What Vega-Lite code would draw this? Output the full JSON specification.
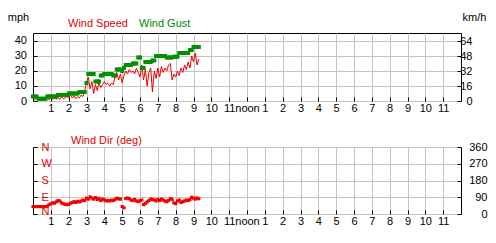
{
  "$schema": "https://vega.github.io/schema/vega-lite/v6.json",
  "background": "white",
  "padding": {"left": 6, "top": 10, "right": 2, "bottom": 2},
  "spacing": 20,
  "config": {
    "font": "Liberation Sans",
    "view": {"stroke": "black", "strokeWidth": 1},
    "axis": {
      "domain": false,
      "labelFont": "Liberation Sans",
      "labelFontSize": 11,
      "labelColor": "black",
      "tickColor": "black",
      "tickSize": -4,
      "gridColor": "#c4c4c4",
      "gridOpacity": 1,
      "titleFont": "Liberation Sans",
      "titleFontSize": 11,
      "titleFontWeight": "normal",
      "titleColor": "black"
    },
    "title": {"font": "Liberation Sans", "fontSize": 11, "fontWeight": "normal"}
  },
  "datasets": {
    "w": [
      {"h": 0.0, "speed": 2, "gust": 3, "dir": 40},
      {"h": 0.1, "speed": 1, "gust": 3, "dir": 40},
      {"h": 0.2, "speed": 2, "gust": 3, "dir": 40},
      {"h": 0.3, "speed": 0.5, "gust": 1.5, "dir": 40},
      {"h": 0.4, "speed": 1, "gust": 1.5, "dir": 40},
      {"h": 0.5, "speed": 0.5, "gust": 1.5, "dir": 40},
      {"h": 0.6, "speed": 1.5, "gust": 1.5, "dir": 40},
      {"h": 0.7, "speed": 0.5, "gust": 1.5, "dir": 40},
      {"h": 0.8, "speed": 1.5, "gust": 3, "dir": 42},
      {"h": 0.9, "speed": 1, "gust": 3, "dir": 50},
      {"h": 1.0, "speed": 2, "gust": 3, "dir": 55},
      {"h": 1.1, "speed": 1, "gust": 3, "dir": 60},
      {"h": 1.2, "speed": 2.5, "gust": 3, "dir": 58},
      {"h": 1.3, "speed": 1, "gust": 3, "dir": 65},
      {"h": 1.4, "speed": 2.5, "gust": 4, "dir": 72},
      {"h": 1.5, "speed": 1, "gust": 4, "dir": 70},
      {"h": 1.6, "speed": 3, "gust": 4, "dir": 60},
      {"h": 1.7, "speed": 1.5, "gust": 4, "dir": 55},
      {"h": 1.8, "speed": 2, "gust": 4, "dir": 52},
      {"h": 1.9, "speed": 3, "gust": 4, "dir": 50},
      {"h": 2.0, "speed": 2, "gust": 5, "dir": 52},
      {"h": 2.1, "speed": 4, "gust": 5, "dir": 58},
      {"h": 2.2, "speed": 2, "gust": 5, "dir": 62},
      {"h": 2.3, "speed": 3.5, "gust": 5, "dir": 66},
      {"h": 2.4, "speed": 1.5, "gust": 5, "dir": 62},
      {"h": 2.5, "speed": 3, "gust": 5, "dir": 68},
      {"h": 2.6, "speed": 2, "gust": 6, "dir": 65},
      {"h": 2.7, "speed": 4, "gust": 6, "dir": 70},
      {"h": 2.8, "speed": 3, "gust": 6, "dir": 75},
      {"h": 2.9, "speed": 7, "gust": 6, "dir": 72},
      {"h": 3.0, "speed": 12, "gust": 12, "dir": 85},
      {"h": 3.1, "speed": 16, "gust": 18, "dir": 80},
      {"h": 3.2, "speed": 8, "gust": 18, "dir": 92},
      {"h": 3.3, "speed": 13, "gust": 18, "dir": 86},
      {"h": 3.4, "speed": 5, "gust": 18, "dir": 80},
      {"h": 3.5, "speed": 11, "gust": 13, "dir": 88},
      {"h": 3.6, "speed": 7, "gust": 13, "dir": 78},
      {"h": 3.7, "speed": 12, "gust": 13, "dir": 84},
      {"h": 3.8, "speed": 9, "gust": 17, "dir": 72},
      {"h": 3.9, "speed": 11, "gust": 17, "dir": 80},
      {"h": 4.0, "speed": 13, "gust": 18, "dir": 76},
      {"h": 4.1, "speed": 11, "gust": 18, "dir": 70},
      {"h": 4.2, "speed": 12, "gust": 18, "dir": 73},
      {"h": 4.3, "speed": 10, "gust": 18, "dir": 70},
      {"h": 4.4, "speed": 12, "gust": 18, "dir": 74},
      {"h": 4.5, "speed": 11, "gust": 17, "dir": 72},
      {"h": 4.6, "speed": 16, "gust": 17, "dir": 78},
      {"h": 4.7, "speed": 19, "gust": 21, "dir": 85},
      {"h": 4.8, "speed": 14, "gust": 21, "dir": 82},
      {"h": 4.9, "speed": 18, "gust": 21, "dir": 80},
      {"h": 5.0, "speed": 12, "gust": 20, "dir": 40},
      {"h": 5.1, "speed": 17, "gust": 22, "dir": 33},
      {"h": 5.2, "speed": 20, "gust": 24, "dir": 83},
      {"h": 5.3, "speed": 18, "gust": 24, "dir": 86},
      {"h": 5.4, "speed": 21, "gust": 24, "dir": 82},
      {"h": 5.5, "speed": 19, "gust": 24, "dir": 75},
      {"h": 5.6, "speed": 20, "gust": 25, "dir": 72},
      {"h": 5.7, "speed": 18, "gust": 25, "dir": 78},
      {"h": 5.8, "speed": 22, "gust": 25, "dir": 70},
      {"h": 5.9, "speed": 19, "gust": 29, "dir": 66},
      {"h": 6.0, "speed": 16, "gust": 29, "dir": 72},
      {"h": 6.1, "speed": 24, "gust": 22, "dir": 75},
      {"h": 6.2, "speed": 14, "gust": 22, "dir": 50},
      {"h": 6.3, "speed": 21, "gust": 26, "dir": 56},
      {"h": 6.4, "speed": 10, "gust": 26, "dir": 65},
      {"h": 6.5, "speed": 19, "gust": 26, "dir": 72},
      {"h": 6.6, "speed": 22, "gust": 26, "dir": 80},
      {"h": 6.7, "speed": 6, "gust": 27, "dir": 78},
      {"h": 6.8, "speed": 20, "gust": 27, "dir": 75},
      {"h": 6.9, "speed": 15, "gust": 30, "dir": 70},
      {"h": 7.0, "speed": 22, "gust": 30, "dir": 78},
      {"h": 7.1, "speed": 16, "gust": 30, "dir": 72},
      {"h": 7.2, "speed": 23, "gust": 30, "dir": 80},
      {"h": 7.3, "speed": 19, "gust": 30, "dir": 75},
      {"h": 7.4, "speed": 22, "gust": 30, "dir": 70},
      {"h": 7.5, "speed": 20, "gust": 29, "dir": 66},
      {"h": 7.6, "speed": 24, "gust": 29, "dir": 72},
      {"h": 7.7, "speed": 25, "gust": 29, "dir": 82},
      {"h": 7.8, "speed": 14, "gust": 29, "dir": 78},
      {"h": 7.9, "speed": 18, "gust": 29.5, "dir": 60},
      {"h": 8.0, "speed": 16, "gust": 29.5, "dir": 56},
      {"h": 8.1, "speed": 20, "gust": 29.5, "dir": 70},
      {"h": 8.2, "speed": 17, "gust": 32, "dir": 75},
      {"h": 8.3, "speed": 22, "gust": 32, "dir": 62},
      {"h": 8.4, "speed": 19, "gust": 32, "dir": 66},
      {"h": 8.5, "speed": 24, "gust": 32, "dir": 70},
      {"h": 8.6, "speed": 21, "gust": 32, "dir": 75},
      {"h": 8.7, "speed": 26, "gust": 32, "dir": 72},
      {"h": 8.8, "speed": 22, "gust": 34, "dir": 78},
      {"h": 8.9, "speed": 30, "gust": 34, "dir": 90},
      {"h": 9.0, "speed": 26, "gust": 36, "dir": 85},
      {"h": 9.1, "speed": 32, "gust": 36, "dir": 80},
      {"h": 9.2, "speed": 24, "gust": 36, "dir": 86},
      {"h": 9.3, "speed": 28, "gust": 36, "dir": 82}
    ]
  },
  "vconcat": [
    {
      "width": 428,
      "height": 68,
      "data": {"name": "w"},
      "layer": [
        {
          "mark": {"type": "line", "strokeWidth": 1},
          "encoding": {
            "x": {"field": "h", "type": "quantitative", "scale": {"domain": [0, 24], "nice": false},
              "axis": {"values": [1,2,3,4,5,6,7,8,9,10,11,12,13,14,15,16,17,18,19,20,21,22,23], "tickCount": 30, "labelExpr": "datum.value == 12 ? 'noon' : '' + (datum.value % 12)", "labelPadding": 5, "title": null, "grid": true, "labelFlush": false, "labelOverlap": false}},
            "y": {"field": "speed", "type": "quantitative", "scale": {"domain": [0, 45.33], "nice": false, "zero": true},
              "axis": {"values": [0, 10, 20, 30, 40], "tickCount": 10, "title": "mph", "titleAngle": 0, "titleX": -15, "titleY": -16, "titleAlign": "center", "titleBaseline": "middle", "labelPadding": 10.5, "grid": true}},
            "color": {"datum": "Wind Speed", "type": "nominal",
              "scale": {"domain": ["Wind Speed", "Wind Gust"], "range": ["#f00000", "#009000"]},
              "legend": {"orient": "none", "legendX": 24, "legendY": -15, "direction": "horizontal", "title": null, "padding": 0, "symbolSize": 0.01, "symbolStrokeWidth": 0, "symbolOpacity": 0, "labelOffset": 0, "columnPadding": 0, "labelFont": "Liberation Sans", "labelFontSize": 11, "labelColor": {"expr": "datum.label == 'Wind Speed' ? '#e00000' : '#008800'"}}}
          }
        },
        {
          "mark": {"type": "point", "shape": "square", "filled": true, "size": 16, "opacity": 1},
          "encoding": {
            "x": {"field": "h", "type": "quantitative", "scale": {"domain": [0, 24], "nice": false}},
            "y": {"field": "gust", "type": "quantitative", "scale": {"domain": [0, 45.33], "nice": false}, "axis": null},
            "color": {"datum": "Wind Gust", "type": "nominal"}
          }
        },
        {
          "mark": {"type": "point", "opacity": 0},
          "encoding": {
            "x": {"field": "h", "type": "quantitative", "scale": {"domain": [0, 24], "nice": false}},
            "y": {"datum": 0, "type": "quantitative", "scale": {"domain": [0, 72.95], "nice": false},
              "axis": {"orient": "right", "values": [0, 16, 32, 48, 64], "tickCount": 10, "title": "km/h", "titleAngle": 0, "titleX": 13, "titleY": -16, "titleAlign": "center", "titleBaseline": "middle", "labelAlign": "right", "labelPadding": 15, "grid": false}}
          }
        }
      ],
      "resolve": {"scale": {"y": "independent"}}
    },
    {
      "width": 428,
      "height": 67,
      "data": {"name": "w"},
      "title": {"text": "Wind Dir (deg)", "anchor": "start", "frame": "group", "dx": 38, "color": "#e00000", "fontSize": 11, "fontWeight": "normal", "offset": -5},
      "layer": [
        {
          "mark": {"type": "point", "shape": "square", "filled": true, "size": 10, "opacity": 1, "color": "#f00000"},
          "encoding": {
            "x": {"field": "h", "type": "quantitative", "scale": {"domain": [0, 24], "nice": false},
              "axis": {"values": [1,2,3,4,5,6,7,8,9,10,11,12,13,14,15,16,17,18,19,20,21,22,23], "tickCount": 30, "labelExpr": "datum.value == 12 ? 'noon' : '' + (datum.value % 12)", "labelPadding": 5, "title": null, "grid": true, "labelFlush": false, "labelOverlap": false}},
            "y": {"field": "dir", "type": "quantitative", "scale": {"domain": [0, 360], "nice": false},
              "axis": {"values": [0, 90, 180, 270, 360], "tickCount": 10, "labelExpr": "datum.value == 90 ? 'E' : datum.value == 180 ? 'S' : datum.value == 270 ? 'W' : 'N'", "labelColor": "#e00000", "labelAlign": "left", "labelBaseline": {"condition": {"test": "datum.value == 0", "value": "alphabetic"}, "value": "middle"}, "labelPadding": -4, "title": null, "grid": true}}
          }
        },
        {
          "mark": {"type": "point", "opacity": 0},
          "encoding": {
            "x": {"field": "h", "type": "quantitative", "scale": {"domain": [0, 24], "nice": false}},
            "y": {"datum": 0, "type": "quantitative", "scale": {"domain": [0, 360], "nice": false},
              "axis": {"orient": "right", "values": [0, 90, 180, 270, 360], "tickCount": 10, "title": null, "labelAlign": "right", "labelPadding": 30, "grid": false}}
          }
        }
      ],
      "resolve": {"scale": {"y": "independent"}}
    }
  ]
}
